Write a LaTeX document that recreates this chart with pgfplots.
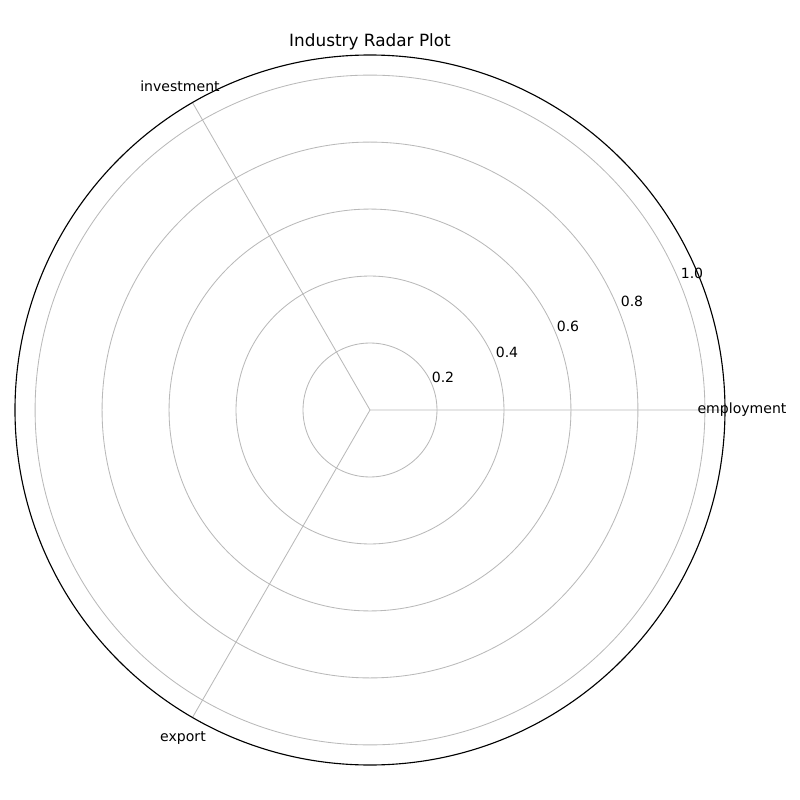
\documentclass[border=0pt]{standalone}
\usepackage{pgfplots}
\pgfplotsset{compat=1.18}
\usepgfplotslibrary{polar}
\usetikzlibrary{calc}
\usepackage{fontspec}
\setmainfont{DejaVu Sans}
\begin{document}
\begin{tikzpicture}
\begin{polaraxis}[name=ax, scale only axis, width=17.75cm, height=17.75cm,
  ymin=0, ymax=1.06, xtick={0,120,240}, xticklabels={}, 
  ytick={0.2,0.4,0.6,0.8,1.0}, yticklabels={},
  grid=major, major grid style={gray!55, line width=0.6pt},
  axis line style={black, line width=0.8pt},
  y axis line style={draw=none}, major tick length=0pt]
\addplot[draw=none] coordinates {(0,0)};
\end{polaraxis}
\pgfresetboundingbox
\useasboundingbox ($(ax.center)+(-9.25cm,-9.75cm)$) rectangle +(20cm,20cm);
\begin{scope}[font=\fontsize{10}{12}\selectfont]
\node at ($(ax.center)+(0,9.2cm)$) {\fontsize{12}{14}\selectfont Industry Radar Plot};
\node at ($(ax.center)+(9.3cm,0)$) {employment};
\node at ($(ax.center)+(-4.75cm,8.1cm)$) {investment};
\node at ($(ax.center)+(-4.675cm,-8.2cm)$) {export};
\node at ($(ax.center)+(1.825cm,0.825cm)$) {0.2};
\node at ($(ax.center)+(3.425cm,1.45cm)$) {0.4};
\node at ($(ax.center)+(4.95cm,2.1cm)$) {0.6};
\node at ($(ax.center)+(6.55cm,2.725cm)$) {0.8};
\node at ($(ax.center)+(8.05cm,3.425cm)$) {1.0};
\end{scope}
\end{tikzpicture}
\end{document}
